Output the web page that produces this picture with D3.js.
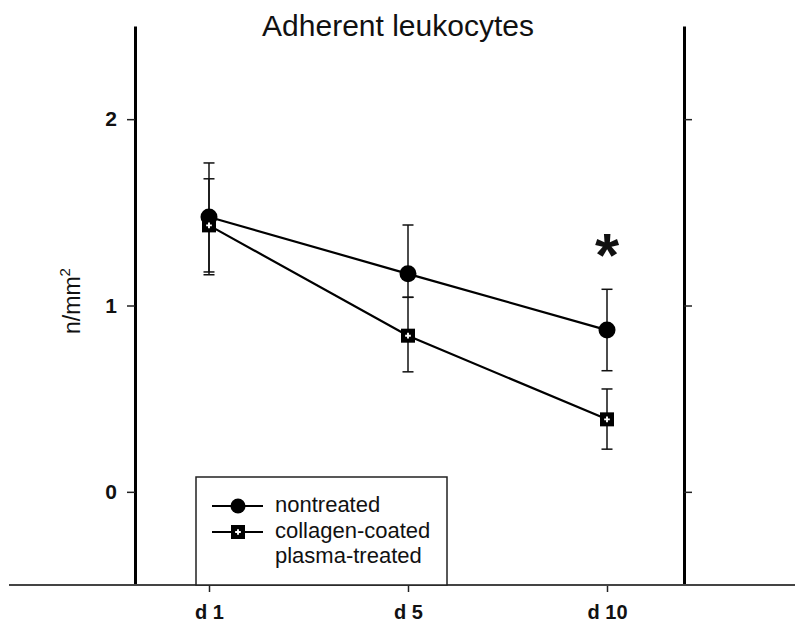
<!DOCTYPE html>
<html>
<head>
<meta charset="utf-8">
<script src="https://cdn.jsdelivr.net/npm/d3@7"></script>
<style>
  body { margin: 0; background: #fff; }
  text { font-family: "Liberation Sans", Arial, sans-serif; fill: #111; }
</style>
</head>
<body>
<div id="chart"></div>
<script>
// Data
const days = ["d 1", "d 5", "d 10"];
const nontreated = [1.475, 1.17, 0.868];
const nontreatedLow = [1.18, 1.044, 0.65];
const nontreatedHigh = [1.765, 1.432, 1.087];
const collagen = [1.43, 0.838, 0.389];
const collagenLow = [1.165, 0.644, 0.229];
const collagenHigh = [1.68, 1.044, 0.552];
const yTicks = [0, 1, 2];
const seriesNames = ["nontreated", "collagen-coated", "plasma-treated"];

// Layout
const W = 795, H = 629;
const frameLeft = 135, frameRight = 684;
const frameTop = 26, frameBottom = 585;

const svg = d3.select("#chart")
  .append("svg")
  .attr("width", W)
  .attr("height", H);

const x = d3.scalePoint()
  .domain(days)
  .range([209, 607]);

const y = d3.scaleLinear()
  .domain([-0.5, 2.5])
  .range([frameBottom, frameTop]);

// Title
svg.append("text")
  .attr("x", 398)
  .attr("y", 36)
  .attr("text-anchor", "middle")
  .attr("font-size", "30px")
  .text("Adherent leukocytes");

// Left axis
const yLeft = svg.append("g")
  .attr("transform", "translate(" + frameLeft + ",0)")
  .call(d3.axisLeft(y).tickValues(yTicks).tickFormat(d3.format("d"))
    .tickSize(8).tickSizeOuter(0).tickPadding(10));
yLeft.select(".domain").attr("stroke", "#000").attr("stroke-width", 3);
yLeft.selectAll(".tick line").attr("stroke", "#222").attr("stroke-width", 1.5);
yLeft.selectAll(".tick text")
  .attr("font-size", "21px")
  .attr("font-weight", "bold")
  .attr("font-family", "'Liberation Sans', Arial, sans-serif")
  .attr("fill", "#111");

// Right axis (ticks only, no labels)
const yRight = svg.append("g")
  .attr("transform", "translate(" + frameRight + ",0)")
  .call(d3.axisRight(y).tickValues(yTicks).tickSize(8).tickSizeOuter(0).tickFormat(""));
yRight.select(".domain").attr("stroke", "#000").attr("stroke-width", 3);
yRight.selectAll(".tick line").attr("stroke", "#222").attr("stroke-width", 1.5);

// Bottom axis
const xAxis = svg.append("g")
  .attr("transform", "translate(0," + frameBottom + ")")
  .call(d3.axisBottom(x).tickSize(7).tickPadding(13));
xAxis.select(".domain").remove();
xAxis.selectAll(".tick line").attr("stroke", "#222").attr("stroke-width", 1.5);
xAxis.selectAll(".tick text")
  .attr("font-size", "20px")
  .attr("font-weight", "bold")
  .attr("font-family", "'Liberation Sans', Arial, sans-serif")
  .attr("fill", "#111");

svg.append("line")
  .attr("x1", 9).attr("x2", W)
  .attr("y1", frameBottom).attr("y2", frameBottom)
  .attr("stroke", "#444")
  .attr("stroke-width", 2);

// Y label
svg.append("text")
  .attr("transform", "translate(80,301) rotate(-90)")
  .attr("text-anchor", "middle")
  .attr("font-size", "23px")
  .html('n/mm<tspan dy="-10" font-size="15px">2</tspan>');

// Error bars
function errorBars(low, high) {
  const g = svg.append("g").attr("stroke", "#111").attr("stroke-width", 1.5);
  days.forEach((d, i) => {
    g.append("line")
      .attr("x1", x(d)).attr("x2", x(d))
      .attr("y1", y(low[i])).attr("y2", y(high[i]));
    [low[i], high[i]].forEach(v => {
      g.append("line")
        .attr("x1", x(d) - 5.5).attr("x2", x(d) + 5.5)
        .attr("y1", y(v)).attr("y2", y(v));
    });
  });
}
errorBars(nontreatedLow, nontreatedHigh);
errorBars(collagenLow, collagenHigh);

// Lines
const line = d3.line()
  .x((d, i) => x(days[i]))
  .y(d => y(d));

[nontreated, collagen].forEach(s => {
  svg.append("path")
    .datum(s)
    .attr("d", line)
    .attr("fill", "none")
    .attr("stroke", "#000")
    .attr("stroke-width", 2.2);
});

// Markers
function circleMark(g, cx, cy, r) {
  g.append("circle").attr("cx", cx).attr("cy", cy).attr("r", r).attr("fill", "#000");
}
function squareMark(g, cx, cy, s) {
  g.append("rect")
    .attr("x", cx - s / 2).attr("y", cy - s / 2)
    .attr("width", s).attr("height", s)
    .attr("fill", "#000");
  g.append("path")
    .attr("transform", "translate(" + cx + "," + cy + ")")
    .attr("d", d3.symbol(d3.symbolCross).size(18)())
    .attr("fill", "#fff");
}

nontreated.forEach((v, i) => circleMark(svg, x(days[i]), y(v), 8.5));
collagen.forEach((v, i) => squareMark(svg, x(days[i]), y(v), 14));

// Significance star
svg.append("text")
  .attr("x", x("d 10"))
  .attr("y", 276)
  .attr("text-anchor", "middle")
  .attr("font-size", "62px")
  .attr("font-weight", "bold")
  .text("*");

// Legend
const legend = svg.append("g");
legend.append("rect")
  .attr("x", 196).attr("y", 477)
  .attr("width", 251).attr("height", 108)
  .attr("fill", "#fff")
  .attr("stroke", "#222")
  .attr("stroke-width", 1.5);

const rowY = [506, 532];
rowY.forEach((ry, i) => {
  legend.append("line")
    .attr("x1", 212).attr("x2", 263)
    .attr("y1", ry).attr("y2", ry)
    .attr("stroke", "#000").attr("stroke-width", 2.2);
  if (i === 0) circleMark(legend, 238, ry, 7.5);
  else squareMark(legend, 238, ry, 14);
});

legend.selectAll("text.lab")
  .data(seriesNames)
  .enter()
  .append("text")
  .attr("class", "lab")
  .attr("x", 275)
  .attr("y", (d, i) => 512 + i * 25.5)
  .attr("font-size", "22px")
  .text(d => d);
</script>
</body>
</html>
